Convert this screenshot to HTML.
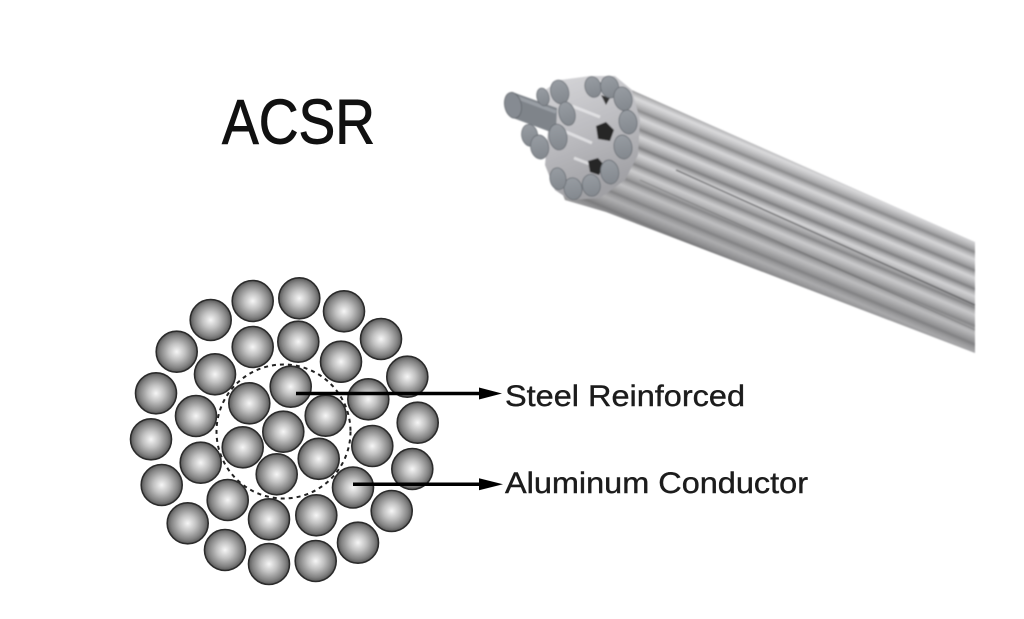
<!DOCTYPE html>
<html>
<head>
<meta charset="utf-8">
<style>
html,body{margin:0;padding:0;background:#fff;}
svg{display:block;}
</style>
</head>
<body>
<svg width="1024" height="619" viewBox="0 0 1024 619" xmlns="http://www.w3.org/2000/svg">
<defs>
  <radialGradient id="ball" cx="0.5" cy="0.5" r="0.5">
    <stop offset="0" stop-color="#f6f6f6"/>
    <stop offset="0.4" stop-color="#c2c2c2"/>
    <stop offset="0.8" stop-color="#838383"/>
    <stop offset="1" stop-color="#585858"/>
  </radialGradient>
  <linearGradient id="strand" gradientUnits="userSpaceOnUse" x1="600" y1="76" x2="593.4" y2="91.7" spreadMethod="repeat">
    <stop offset="0" stop-color="#7e7e80"/>
    <stop offset="0.15" stop-color="#a6a6a8"/>
    <stop offset="0.4" stop-color="#d4d4d6"/>
    <stop offset="0.6" stop-color="#c0c0c2"/>
    <stop offset="0.88" stop-color="#9c9c9e"/>
    <stop offset="1" stop-color="#7e7e80"/>
  </linearGradient>
  <linearGradient id="shade" gradientUnits="userSpaceOnUse" x1="790" y1="160" x2="745" y2="272">
    <stop offset="0" stop-color="#ffffff" stop-opacity="0.15"/>
    <stop offset="0.4" stop-color="#bbbbbb" stop-opacity="0"/>
    <stop offset="1" stop-color="#6e6e70" stop-opacity="0.6"/>
  </linearGradient>
  <linearGradient id="blob" x1="0" y1="0" x2="0.3" y2="1">
    <stop offset="0" stop-color="#d6d6d9"/>
    <stop offset="0.5" stop-color="#bdbdc1"/>
    <stop offset="1" stop-color="#a0a0a4"/>
  </linearGradient>
  <linearGradient id="face" x1="0" y1="0" x2="0" y2="1">
    <stop offset="0" stop-color="#979ca2"/>
    <stop offset="1" stop-color="#83888e"/>
  </linearGradient>
  <clipPath id="cableClip">
    <polygon points="600,76 975,242 975,353 606,212 565,200 545,150 560,95"/>
  </clipPath>
  <filter id="soft" x="-5%" y="-5%" width="110%" height="110%">
    <feGaussianBlur stdDeviation="0.7"/>
  </filter>
</defs>

<rect width="1024" height="619" fill="#fff"/>

<!-- Title -->
<text x="222" y="143.5" font-family="Liberation Sans, Arial, sans-serif" font-size="63" fill="#111" stroke="#111" stroke-width="0.9" textLength="153" lengthAdjust="spacingAndGlyphs">ACSR</text>

<!-- Cable -->
<g filter="url(#soft)">
  <g clip-path="url(#cableClip)">
    <rect x="540" y="70" width="440" height="290" fill="url(#strand)"/>
    <rect x="540" y="70" width="440" height="290" fill="url(#shade)"/>
    <line x1="676" y1="170" x2="975" y2="305" stroke="#3c3c3e" stroke-width="1.6" opacity="0.55"/>
    <line x1="640" y1="180" x2="975" y2="330" stroke="#505052" stroke-width="1.2" opacity="0.35"/>
  </g>

  <!-- End cluster -->
  <polygon points="545,90 560,80 590,76 615,76 632,90 640,120 638,155 625,180 600,198 570,200 555,190 545,165 548,130" fill="url(#blob)"/>
  <g stroke="#eeeef0" stroke-width="3" opacity="0.7">
    <line x1="572" y1="106" x2="600" y2="117"/>
    <line x1="564" y1="131" x2="592" y2="143"/>
    <line x1="596" y1="80" x2="630" y2="94"/>
    <line x1="574" y1="158" x2="600" y2="168"/>
  </g>
  <polygon points="596,126 606,122 614,130 610,141 598,139" fill="#262626"/>
  <polygon points="588,161 598,158 604,165 599,175 590,172" fill="#262626"/>
  <polygon points="601,95 610,98 606,105" fill="#333"/>

  <!-- steel core protrusion -->
  <polygon points="515,93 557,108 556,134 513,118" fill="#7f848a"/>
  <line x1="516" y1="97" x2="556" y2="112" stroke="#a2a7ad" stroke-width="3.5" opacity="0.75"/>

  <g fill="url(#face)" stroke="#686d73" stroke-width="0.8">
    <ellipse cx="543" cy="97" rx="6" ry="9" transform="rotate(-15 543 97)"/>
    <ellipse cx="559.7" cy="92" rx="9" ry="12" transform="rotate(-15 559.7 92)"/>
    <ellipse cx="567" cy="113.7" rx="8" ry="12" transform="rotate(-15 567 113.7)"/>
    <ellipse cx="593" cy="87" rx="8" ry="10.5" transform="rotate(-15 593 87)"/>
    <ellipse cx="609.7" cy="87" rx="9" ry="11" transform="rotate(-15 609.7 87)"/>
    <ellipse cx="623" cy="98.7" rx="9" ry="12" transform="rotate(-15 623 98.7)"/>
    <ellipse cx="628" cy="122" rx="9" ry="12" transform="rotate(-10 628 122)"/>
    <ellipse cx="623" cy="147" rx="9" ry="12" transform="rotate(-10 623 147)"/>
    <ellipse cx="609.7" cy="172" rx="9" ry="12" transform="rotate(-10 609.7 172)"/>
    <ellipse cx="591.3" cy="185.3" rx="9" ry="11" transform="rotate(-10 591.3 185.3)"/>
    <ellipse cx="573" cy="188.7" rx="9" ry="11" transform="rotate(-10 573 188.7)"/>
    <ellipse cx="558" cy="178.7" rx="8" ry="11" transform="rotate(-10 558 178.7)"/>
    <ellipse cx="529.7" cy="135.3" rx="8" ry="11" transform="rotate(-10 529.7 135.3)"/>
    <ellipse cx="539.7" cy="147" rx="9" ry="12" transform="rotate(-10 539.7 147)"/>
    <ellipse cx="558" cy="137" rx="9" ry="13" transform="rotate(-10 558 137)"/>
  </g>
  <ellipse cx="513" cy="105.3" rx="8.3" ry="13" transform="rotate(-12 513 105.3)" fill="#868b92" stroke="#5f646a" stroke-width="0.8"/>
</g>

<!-- Cross-section -->
<circle cx="283.5" cy="431.5" r="67" fill="none" stroke="#222" stroke-width="2" stroke-dasharray="4 4"/>

<g fill="url(#ball)" stroke="#2b2b2b" stroke-width="1.6">
  <circle cx="252.7" cy="301" r="20.5"/>
  <circle cx="299.3" cy="298.3" r="20.5"/>
  <circle cx="344" cy="311.3" r="20.5"/>
  <circle cx="381" cy="339" r="20.5"/>
  <circle cx="407.3" cy="376.7" r="20.5"/>
  <circle cx="417.7" cy="422.7" r="20.5"/>
  <circle cx="412.3" cy="469" r="20.5"/>
  <circle cx="391.7" cy="511" r="20.5"/>
  <circle cx="358" cy="542.7" r="20.5"/>
  <circle cx="315.7" cy="561" r="20.5"/>
  <circle cx="269" cy="564" r="20.5"/>
  <circle cx="225" cy="550" r="20.5"/>
  <circle cx="187.7" cy="523.3" r="20.5"/>
  <circle cx="161.7" cy="485" r="20.5"/>
  <circle cx="151" cy="439.3" r="20.5"/>
  <circle cx="156" cy="393.3" r="20.5"/>
  <circle cx="176.7" cy="351.7" r="20.5"/>
  <circle cx="210.7" cy="320" r="20.5"/>
  <circle cx="252.7" cy="347" r="20.5"/>
  <circle cx="298.3" cy="341.7" r="20.5"/>
  <circle cx="341" cy="361.7" r="20.5"/>
  <circle cx="368.3" cy="399.3" r="20.5"/>
  <circle cx="372.3" cy="446" r="20.5"/>
  <circle cx="353" cy="487.5" r="20.5"/>
  <circle cx="316.3" cy="515.3" r="20.5"/>
  <circle cx="269" cy="519.3" r="20.5"/>
  <circle cx="227.7" cy="500" r="20.5"/>
  <circle cx="200.7" cy="462.7" r="20.5"/>
  <circle cx="196" cy="416" r="20.5"/>
  <circle cx="215" cy="374.3" r="20.5"/>
  <circle cx="283.3" cy="431.7" r="20.5"/>
  <circle cx="290.7" cy="386.7" r="20.5"/>
  <circle cx="249.3" cy="403.3" r="20.5"/>
  <circle cx="242.7" cy="447.3" r="20.5"/>
  <circle cx="276.7" cy="474.3" r="20.5"/>
  <circle cx="318.7" cy="458.8" r="20.5"/>
  <circle cx="325.7" cy="415.7" r="20.5"/>
</g>

<!-- Arrows -->
<line x1="296" y1="393.5" x2="484" y2="393.5" stroke="#000" stroke-width="3.5"/>
<polygon points="479,387.5 502,393.5 479,399.5" fill="#000"/>
<line x1="353" y1="484.3" x2="484" y2="484.3" stroke="#000" stroke-width="3.5"/>
<polygon points="479,478.3 503,484.3 479,490.3" fill="#000"/>

<!-- Labels -->
<text x="505" y="406" font-family="Liberation Sans, Arial, sans-serif" font-size="30" fill="#1c1c1c" stroke="#1c1c1c" stroke-width="0.4" textLength="240" lengthAdjust="spacingAndGlyphs">Steel Reinforced</text>
<text x="505" y="493" font-family="Liberation Sans, Arial, sans-serif" font-size="30" fill="#1c1c1c" stroke="#1c1c1c" stroke-width="0.4" textLength="303" lengthAdjust="spacingAndGlyphs">Aluminum Conductor</text>
</svg>
</body>
</html>
